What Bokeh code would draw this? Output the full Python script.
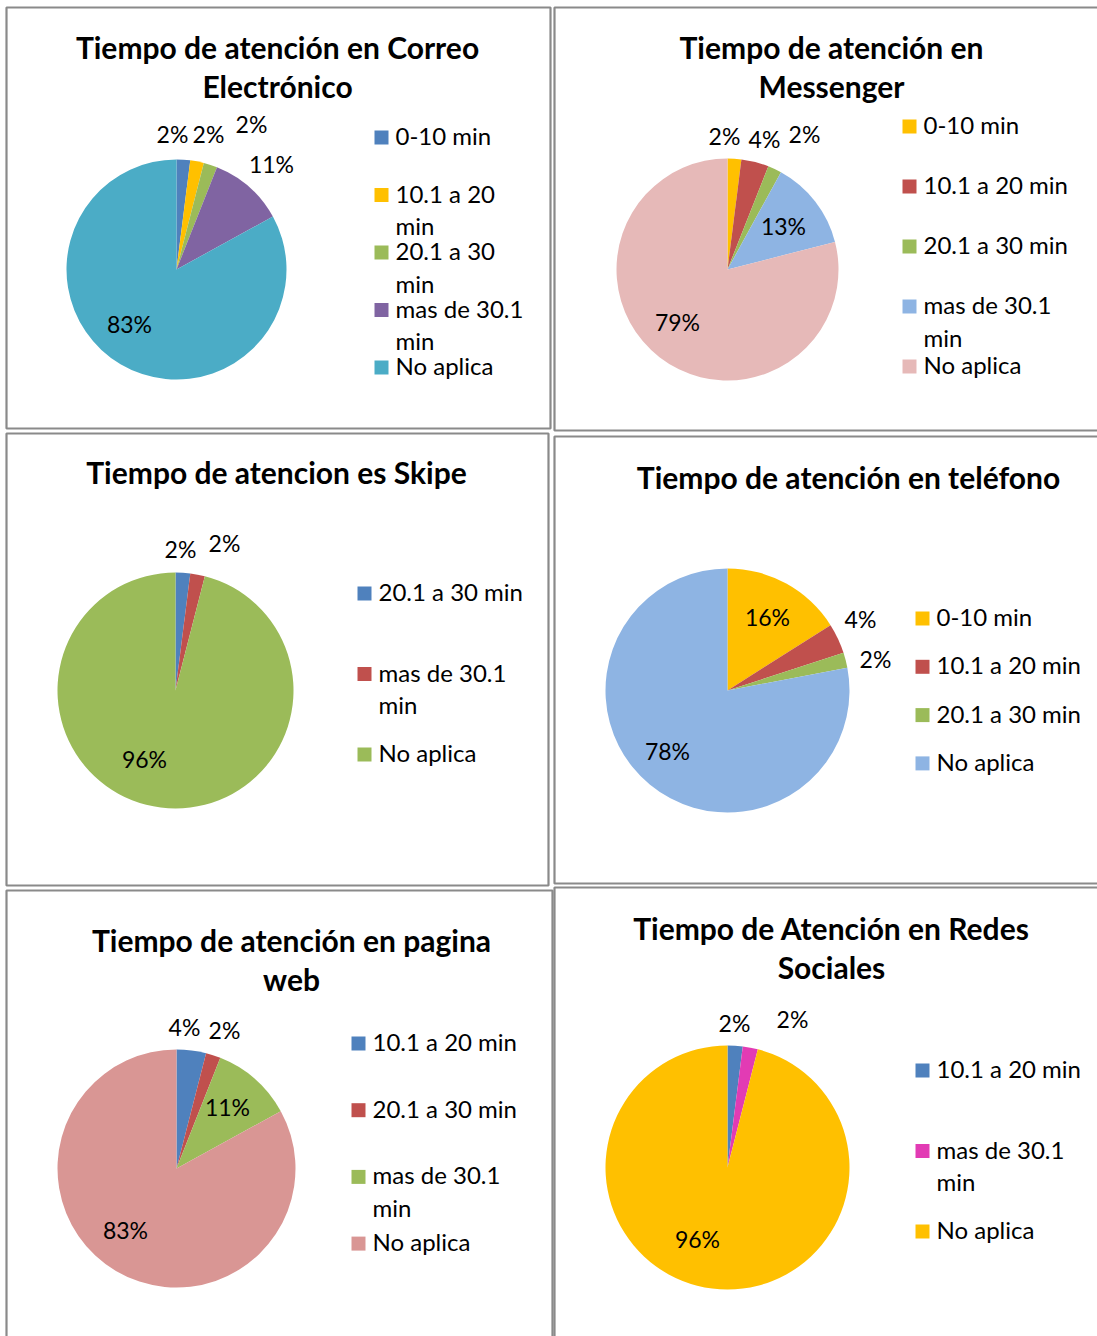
import math
import textwrap
from bokeh.plotting import figure
from bokeh.models import Range1d, ColumnDataSource
from bokeh.core.properties import value
from bokeh.embed import file_html
from bokeh.resources import INLINE

# ---------------- data ----------------
correo_title = "Tiempo de atención en Correo Electrónico"
correo_cats = ["0-10 min", "10.1 a 20 min", "20.1 a 30 min", "mas de 30.1 min", "No aplica"]
correo_vals = [2, 2, 2, 11, 83]

messenger_title = "Tiempo de atención en Messenger"
messenger_cats = ["0-10 min", "10.1 a 20 min", "20.1 a 30 min", "mas de 30.1 min", "No aplica"]
messenger_vals = [2, 4, 2, 13, 79]

skipe_title = "Tiempo de atencion es Skipe"
skipe_cats = ["20.1 a 30 min", "mas de 30.1 min", "No aplica"]
skipe_vals = [2, 2, 96]

telefono_title = "Tiempo de atención en teléfono"
telefono_cats = ["0-10 min", "10.1 a 20 min", "20.1 a 30 min", "No aplica"]
telefono_vals = [16, 4, 2, 78]

web_title = "Tiempo de atención en pagina web"
web_cats = ["10.1 a 20 min", "20.1 a 30 min", "mas de 30.1 min", "No aplica"]
web_vals = [4, 2, 11, 83]

redes_title = "Tiempo de Atención en Redes Sociales"
redes_cats = ["10.1 a 20 min", "mas de 30.1 min", "No aplica"]
redes_vals = [2, 2, 96]

# ---------------- styles ----------------
BLUE, RED, GREEN, PURPLE, TEAL = "#4F81BD", "#C0504D", "#9BBB59", "#8064A2", "#4BACC6"
YELLOW, LBLUE, PINK, ROSE, MAGENTA = "#FFC000", "#8EB4E3", "#E6B9B8", "#D99694", "#E23BB4"

# ---------------- layout (screen pixels) ----------------
panels = [
    dict(title=correo_title, cats=correo_cats, vals=correo_vals,
         colors=[BLUE, YELLOW, GREEN, PURPLE, TEAL],
         box=(6, 7, 550, 428), title_lines=["Tiempo de atención en Correo", "Electrónico"],
         title_xy=(277, 48), center=(176, 269), r=110,
         lbl=[(172, 135), (208, 135), (251, 125), (271, 165), (129, 325)],
         leg_x=374, leg_y=137, leg_step=57.5, wrap=11),
    dict(title=messenger_title, cats=messenger_cats, vals=messenger_vals,
         colors=[YELLOW, RED, GREEN, LBLUE, PINK],
         box=(554, 7, 1110, 430), title_lines=["Tiempo de atención en", "Messenger"],
         title_xy=(831, 48), center=(727, 269), r=111,
         lbl=[(724, 137), (764, 140), (804, 135), (783, 227), (677, 323)],
         leg_x=902, leg_y=126, leg_step=60, wrap=13),
    dict(title=skipe_title, cats=skipe_cats, vals=skipe_vals,
         colors=[BLUE, RED, GREEN],
         box=(6, 433, 548, 885), title_lines=["Tiempo de atencion es Skipe"],
         title_xy=(276, 473), center=(175, 690), r=118,
         lbl=[(180, 550), (224, 544), (144, 760)],
         leg_x=357, leg_y=593, leg_step=80.5, wrap=13),
    dict(title=telefono_title, cats=telefono_cats, vals=telefono_vals,
         colors=[YELLOW, RED, GREEN, LBLUE],
         box=(554, 436, 1110, 883), title_lines=["Tiempo de atención en teléfono"],
         title_xy=(848, 478), center=(727, 690), r=122,
         lbl=[(767, 618), (860, 620), (875, 660), (667, 752)],
         leg_x=915, leg_y=618, leg_step=48.3, wrap=13),
    dict(title=web_title, cats=web_cats, vals=web_vals,
         colors=[BLUE, RED, GREEN, ROSE],
         box=(6, 890, 552, 1345), title_lines=["Tiempo de atención en pagina", "web"],
         title_xy=(291, 941), center=(176, 1168), r=119,
         lbl=[(184, 1028), (224, 1031), (227, 1108), (125, 1231)],
         leg_x=351, leg_y=1043, leg_step=66.7, wrap=13),
    dict(title=redes_title, cats=redes_cats, vals=redes_vals,
         colors=[BLUE, MAGENTA, YELLOW],
         box=(554, 887, 1110, 1345), title_lines=["Tiempo de Atención en Redes", "Sociales"],
         title_xy=(831, 929), center=(727, 1167), r=122,
         lbl=[(734, 1024), (792, 1020), (697, 1240)],
         leg_x=915, leg_y=1070, leg_step=80.5, wrap=13),
]

H = 1336
TXT_DY = -2  # small vertical correction for text baseline


def Y(ys):
    return H - ys


TITLE_FONT = value("Lato")
BODY_FONT = value("Lato")

p = figure(width=1097, height=1336, x_range=Range1d(0, 1097), y_range=Range1d(0, 1336),
           x_axis_location=None, y_axis_location=None, toolbar_location=None,
           output_backend="svg", min_border=0, outline_line_color=None,
           background_fill_color="white", border_fill_color="white")
p.grid.visible = False

for pn in panels:
    l, t, r_, b = pn["box"]
    p.quad(left=[l], right=[r_], top=[Y(t)], bottom=[Y(b)], fill_color=None,
           line_color="#8A8A8A", line_width=2.2)

    cx, cy = pn["center"]
    vals = pn["vals"]
    total = sum(vals)
    starts, ends = [], []
    cum = 0
    for v in vals:
        starts.append(math.pi / 2 - 2 * math.pi * cum / total)
        cum += v
        ends.append(math.pi / 2 - 2 * math.pi * cum / total)
    src = ColumnDataSource(dict(start=starts, end=ends, color=pn["colors"], cat=pn["cats"], val=vals))
    p.wedge(x=cx, y=Y(cy), radius=pn["r"], radius_units="data", start_angle="start", end_angle="end",
            direction="clock", fill_color="color", line_color=None, source=src)

    # percentage labels
    lx = [xy[0] for xy in pn["lbl"]]
    ly = [Y(xy[1] + TXT_DY) for xy in pn["lbl"]]
    ltxt = ["%d%%" % v for v in vals]
    p.text(x=lx, y=ly, text=ltxt, text_font=BODY_FONT, text_font_size="23px",
           text_align="center", text_baseline="middle", text_color="#000000")

    # title
    tx, ty = pn["title_xy"]
    p.text(x=[tx] * len(pn["title_lines"]),
           y=[Y(ty + TXT_DY + 39 * i) for i in range(len(pn["title_lines"]))],
           text=pn["title_lines"], text_font=TITLE_FONT, text_font_style="bold",
           text_font_size="30px", text_align="center", text_baseline="middle", text_color="#000000")

    # legend
    sq_x, sq_y, sq_c = [], [], []
    tl_x, tl_y, tl_t = [], [], []
    for i, (cat, col) in enumerate(zip(pn["cats"], pn["colors"])):
        y0 = pn["leg_y"] + i * pn["leg_step"]
        sq_x.append(pn["leg_x"] + 7)
        sq_y.append(Y(y0))
        sq_c.append(col)
        for j, line in enumerate(textwrap.wrap(cat, pn["wrap"])):
            tl_x.append(pn["leg_x"] + 21)
            tl_y.append(Y(y0 + TXT_DY + 32.5 * j))
            tl_t.append(line)
    p.rect(x=sq_x, y=sq_y, width=14, height=14, fill_color=sq_c, line_color=None)
    p.text(x=tl_x, y=tl_y, text=tl_t, text_font=BODY_FONT, text_font_size="24px",
           text_align="left", text_baseline="middle", text_color="#000000")

open("out.html", "w").write(file_html(p, INLINE))
